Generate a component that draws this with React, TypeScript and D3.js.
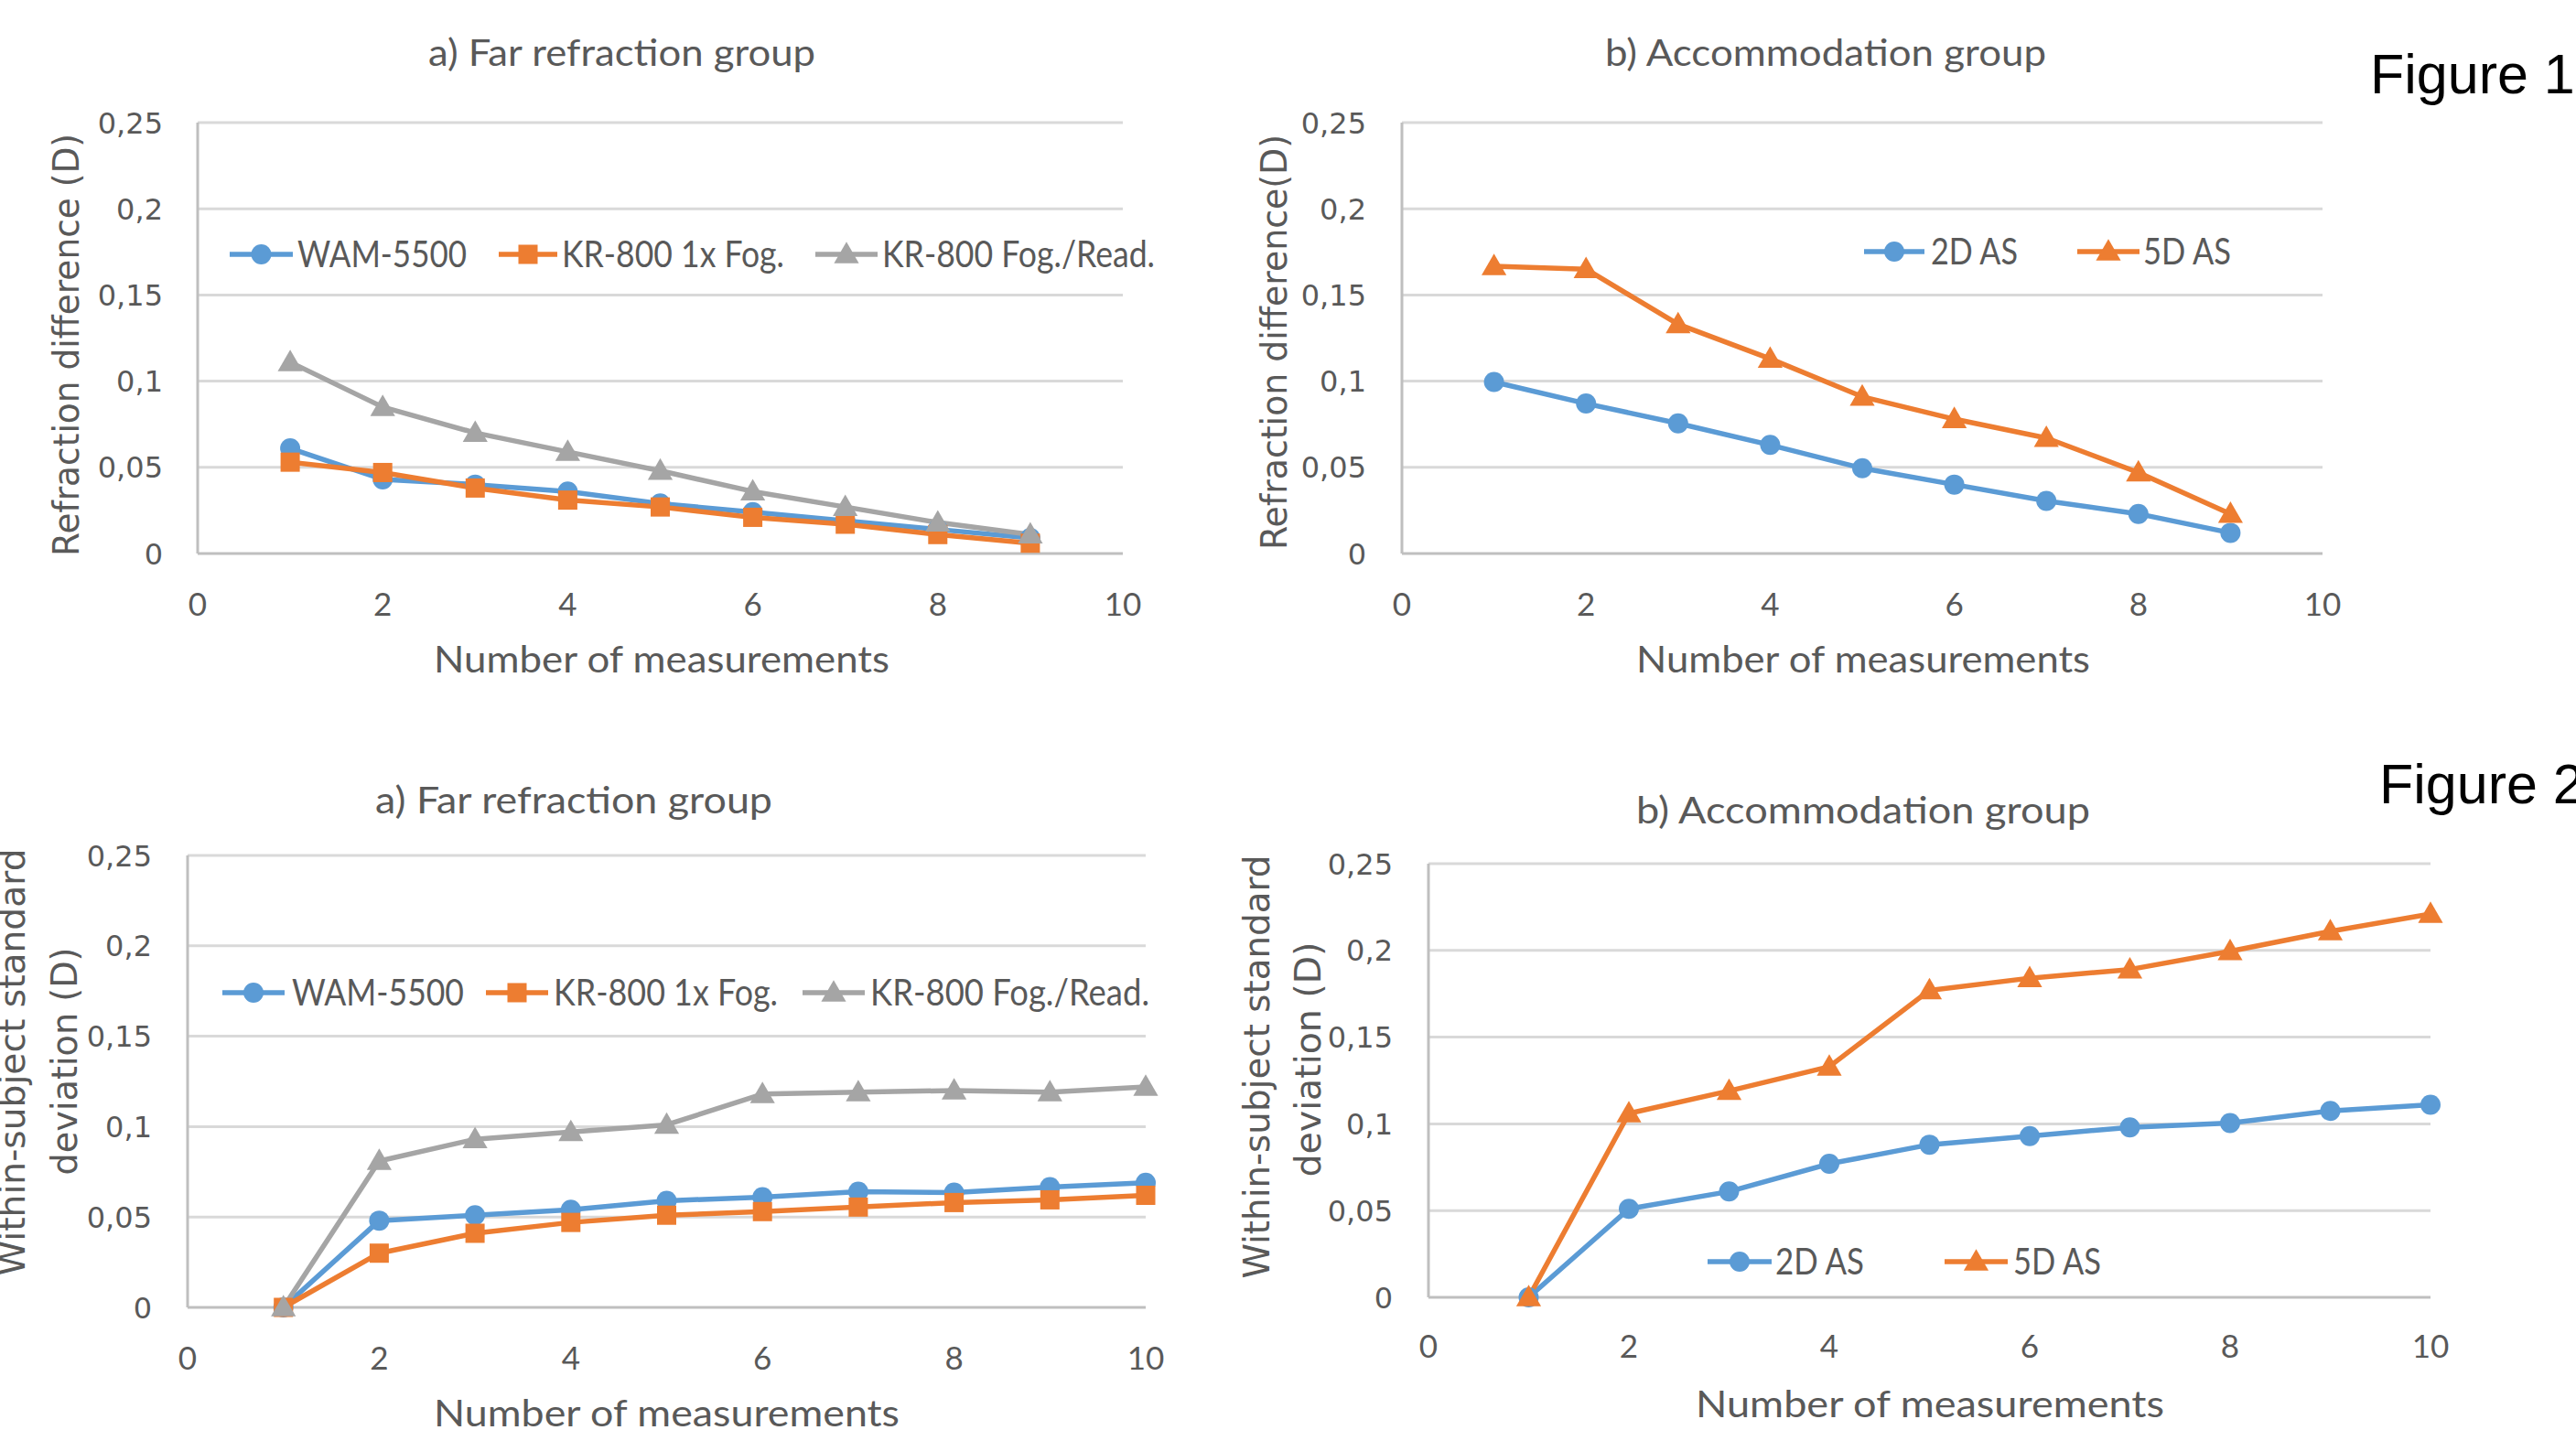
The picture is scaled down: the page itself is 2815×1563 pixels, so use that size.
import React from "react";
import * as d3 from "d3";

// ---------- DATA ----------
const xTicks = [0, 2, 4, 6, 8, 10];
const yTicks = [0, 0.05, 0.1, 0.15, 0.2, 0.25];
const yTickLabels = ["0", "0,05", "0,1", "0,15", "0,2", "0,25"];

const fig1Measurements = [1, 2, 3, 4, 5, 6, 7, 8, 9];
const fig1aWAM = [0.061, 0.043, 0.04, 0.036, 0.029, 0.024, 0.019, 0.014, 0.009];
const fig1aKR1x = [0.053, 0.047, 0.038, 0.031, 0.027, 0.021, 0.017, 0.011, 0.006];
const fig1aKRFog = [0.111, 0.085, 0.07, 0.059, 0.048, 0.036, 0.027, 0.018, 0.011];
const fig1b2D = [0.0995, 0.087, 0.0755, 0.063, 0.0495, 0.04, 0.0305, 0.023, 0.012];
const fig1b5D = [0.1667, 0.165, 0.133, 0.113, 0.091, 0.078, 0.067, 0.047, 0.023];

const fig2Measurements = [1, 2, 3, 4, 5, 6, 7, 8, 9, 10];
const fig2aWAM = [0, 0.048, 0.051, 0.054, 0.059, 0.061, 0.064, 0.0635, 0.0665, 0.069];
const fig2aKR1x = [0, 0.03, 0.041, 0.047, 0.051, 0.053, 0.0555, 0.058, 0.0595, 0.062];
const fig2aKRFog = [0, 0.081, 0.093, 0.097, 0.101, 0.118, 0.119, 0.12, 0.119, 0.122];
const fig2b2D = [0, 0.051, 0.061, 0.077, 0.088, 0.093, 0.098, 0.1005, 0.1075, 0.111];
const fig2b5D = [0, 0.106, 0.119, 0.133, 0.177, 0.184, 0.189, 0.1995, 0.211, 0.221];

const nameWAM = "WAM-5500";
const nameKR1x = "KR-800 1x Fog.";
const nameKRFog = "KR-800 Fog./Read.";
const name2D = "2D AS";
const name5D = "5D AS";

// ---------- STYLE ----------
const BLUE = "#5B9BD5";
const ORANGE = "#ED7D31";
const GRAY = "#A5A5A5";
const TEXT = "#595959";
const GRID = "#D9D9D9";
const AXIS = "#BFBFBF";
const CAL = "Lato, 'Open Sans', sans-serif";
const VER = "'DejaVu Sans', Verdana, sans-serif";

type Series = { name: string; xs: number[]; ys: number[]; color: string; marker: "circle" | "square" | "triangle" };

function Marker({ kind, cx, cy, color }: { kind: string; cx: number; cy: number; color: string }) {
  if (kind === "circle") return <circle cx={cx} cy={cy} r={11} fill={color} />;
  if (kind === "square") return <rect x={cx - 10.5} y={cy - 10.5} width={21} height={21} fill={color} />;
  const p = d3.symbol(d3.symbolTriangle, 320)() as string;
  return <path d={p} transform={`translate(${cx},${cy + 2})`} fill={color} />;
}

function FText({ text, x1, x2, baseline, size, family, fill = TEXT }: any) {
  return (
    <text
      x={x1}
      y={baseline}
      fontFamily={family}
      fontSize={size}
      fill={fill}
      textLength={x2 - x1}
      lengthAdjust="spacingAndGlyphs"
    >
      {text}
    </text>
  );
}

function Panel({ cfg }: { cfg: any }) {
  const x = d3.scaleLinear().domain([0, 10]).range([cfg.x0, cfg.x1]);
  const y = d3.scaleLinear().domain([0, 0.25]).range([cfg.yBot, cfg.yTop]);
  const line = d3
    .line<[number, number]>()
    .x((d) => x(d[0]))
    .y((d) => y(d[1]));
  const series: Series[] = cfg.series;
  return (
    <g>
      {yTicks.map((t, i) => (
        <line key={"g" + i} x1={cfg.x0} x2={cfg.x1} y1={y(t)} y2={y(t)} stroke={i === 0 ? AXIS : GRID} strokeWidth={3} />
      ))}
      <line x1={cfg.x0} x2={cfg.x0} y1={cfg.yTop} y2={cfg.yBot} stroke={AXIS} strokeWidth={3} />
      {yTicks.map((t, i) => (
        <text key={"yl" + i} x={cfg.yTickRight} y={y(t)} dy="0.36em" textAnchor="end" fontFamily={VER} fontSize={32} fill={TEXT}>
          {yTickLabels[i]}
        </text>
      ))}
      {xTicks.map((t, i) => (
        <text key={"xl" + i} x={x(t)} y={cfg.xTickY} dy="0.36em" textAnchor="middle" fontFamily={CAL} fontSize={35} fill={TEXT}>
          {t}
        </text>
      ))}
      {series.map((s, si) => (
        <path
          key={"l" + si}
          d={line(s.xs.map((v, i) => [v, s.ys[i]] as [number, number])) as string}
          fill="none"
          stroke={s.color}
          strokeWidth={5.5}
          strokeLinejoin="round"
          strokeLinecap="round"
        />
      ))}
      {series.map((s, si) => (
        <g key={"m" + si}>
          {s.xs.map((v, i) => (
            <Marker key={i} kind={s.marker} cx={x(v)} cy={y(s.ys[i])} color={s.color} />
          ))}
        </g>
      ))}
      <FText {...cfg.title} size={40} family={CAL} />
      <FText {...cfg.xTitle} size={40} family={CAL} />
      {cfg.yLabels.map((l: any, i: number) => (
        <text
          key={"yt" + i}
          transform={`translate(${l.bx},${l.cy}) rotate(-90)`}
          x={0}
          y={0}
          textAnchor="middle"
          fontFamily={VER}
          fontSize={39}
          fill={TEXT}
          textLength={l.len}
          lengthAdjust="spacingAndGlyphs"
        >
          {l.text}
        </text>
      ))}
      {cfg.legend.items.map((it: any, i: number) => {
        const s = series[i];
        const ly = cfg.legend.y;
        return (
          <g key={"lg" + i}>
            <line x1={it.l1} x2={it.l2} y1={ly} y2={ly} stroke={s.color} strokeWidth={5.5} />
            <Marker kind={s.marker} cx={(it.l1 + it.l2) / 2} cy={ly} color={s.color} />
            <FText text={s.name} x1={it.t1} x2={it.t2} baseline={ly + 14} size={40} family={CAL} />
          </g>
        );
      })}
    </g>
  );
}

const panels = [
  {
    x0: 216, x1: 1227, yTop: 134, yBot: 605, xTickY: 660, yTickRight: 178,
    title: { text: "a) Far refraction group", x1: 468, x2: 891, baseline: 72 },
    xTitle: { text: "Number of measurements", x1: 474, x2: 972, baseline: 735 },
    yLabels: [{ text: "Refraction difference (D)", bx: 86, cy: 377, len: 462 }],
    legend: {
      y: 278,
      items: [
        { l1: 251, l2: 320, t1: 325, t2: 510 },
        { l1: 545, l2: 609, t1: 614, t2: 857 },
        { l1: 891, l2: 959, t1: 964, t2: 1262 },
      ],
    },
    series: [
      { name: nameWAM, xs: fig1Measurements, ys: fig1aWAM, color: BLUE, marker: "circle" },
      { name: nameKR1x, xs: fig1Measurements, ys: fig1aKR1x, color: ORANGE, marker: "square" },
      { name: nameKRFog, xs: fig1Measurements, ys: fig1aKRFog, color: GRAY, marker: "triangle" },
    ],
  },
  {
    x0: 1532, x1: 2538, yTop: 134, yBot: 605, xTickY: 660, yTickRight: 1493,
    title: { text: "b) Accommodation group", x1: 1754, x2: 2236, baseline: 72 },
    xTitle: { text: "Number of measurements", x1: 1788, x2: 2284, baseline: 735 },
    yLabels: [{ text: "Refraction difference(D)", bx: 1406, cy: 374, len: 454 }],
    legend: {
      y: 275,
      items: [
        { l1: 2037, l2: 2103, t1: 2110, t2: 2205 },
        { l1: 2270, l2: 2338, t1: 2342, t2: 2438 },
      ],
    },
    series: [
      { name: name2D, xs: fig1Measurements, ys: fig1b2D, color: BLUE, marker: "circle" },
      { name: name5D, xs: fig1Measurements, ys: fig1b5D, color: ORANGE, marker: "triangle" },
    ],
  },
  {
    x0: 205, x1: 1252, yTop: 935, yBot: 1429, xTickY: 1484, yTickRight: 166,
    title: { text: "a) Far refraction group", x1: 410, x2: 844, baseline: 889 },
    xTitle: { text: "Number of measurements", x1: 474, x2: 983, baseline: 1559 },
    yLabels: [
      { text: "Within-subject standard", bx: 27, cy: 1161, len: 467 },
      { text: "deviation (D)", bx: 84, cy: 1160, len: 249 },
    ],
    legend: {
      y: 1085,
      items: [
        { l1: 243, l2: 311, t1: 319, t2: 507 },
        { l1: 531, l2: 599, t1: 605, t2: 850 },
        { l1: 877, l2: 945, t1: 951, t2: 1256 },
      ],
    },
    series: [
      { name: nameWAM, xs: fig2Measurements, ys: fig2aWAM, color: BLUE, marker: "circle" },
      { name: nameKR1x, xs: fig2Measurements, ys: fig2aKR1x, color: ORANGE, marker: "square" },
      { name: nameKRFog, xs: fig2Measurements, ys: fig2aKRFog, color: GRAY, marker: "triangle" },
    ],
  },
  {
    x0: 1561, x1: 2656, yTop: 944, yBot: 1418, xTickY: 1471, yTickRight: 1522,
    title: { text: "b) Accommodation group", x1: 1788, x2: 2284, baseline: 900 },
    xTitle: { text: "Number of measurements", x1: 1853, x2: 2365, baseline: 1549 },
    yLabels: [
      { text: "Within-subject standard", bx: 1387, cy: 1166, len: 463 },
      { text: "deviation (D)", bx: 1443, cy: 1158, len: 257 },
    ],
    legend: {
      y: 1379,
      items: [
        { l1: 1866, l2: 1936, t1: 1940, t2: 2037 },
        { l1: 2125, l2: 2194, t1: 2200, t2: 2296 },
      ],
    },
    series: [
      { name: name2D, xs: fig2Measurements, ys: fig2b2D, color: BLUE, marker: "circle" },
      { name: name5D, xs: fig2Measurements, ys: fig2b5D, color: ORANGE, marker: "triangle" },
    ],
  },
];

export default function App() {
  return (
    <svg
      width={2815}
      height={1563}
      viewBox="0 0 2815 1563"
      style={{ position: "absolute", left: 0, top: 0, background: "#fff" }}
    >
      <rect width={2815} height={1563} fill="#fff" />
      {panels.map((p, i) => (
        <Panel key={i} cfg={p} />
      ))}
      <text x={2590} y={102} fontFamily="'Liberation Sans', Arial, sans-serif" fontSize={61} fill="#000">
        Figure 1
      </text>
      <text x={2600} y={878} fontFamily="'Liberation Sans', Arial, sans-serif" fontSize={61} fill="#000">
        Figure 2
      </text>
    </svg>
  );
}
